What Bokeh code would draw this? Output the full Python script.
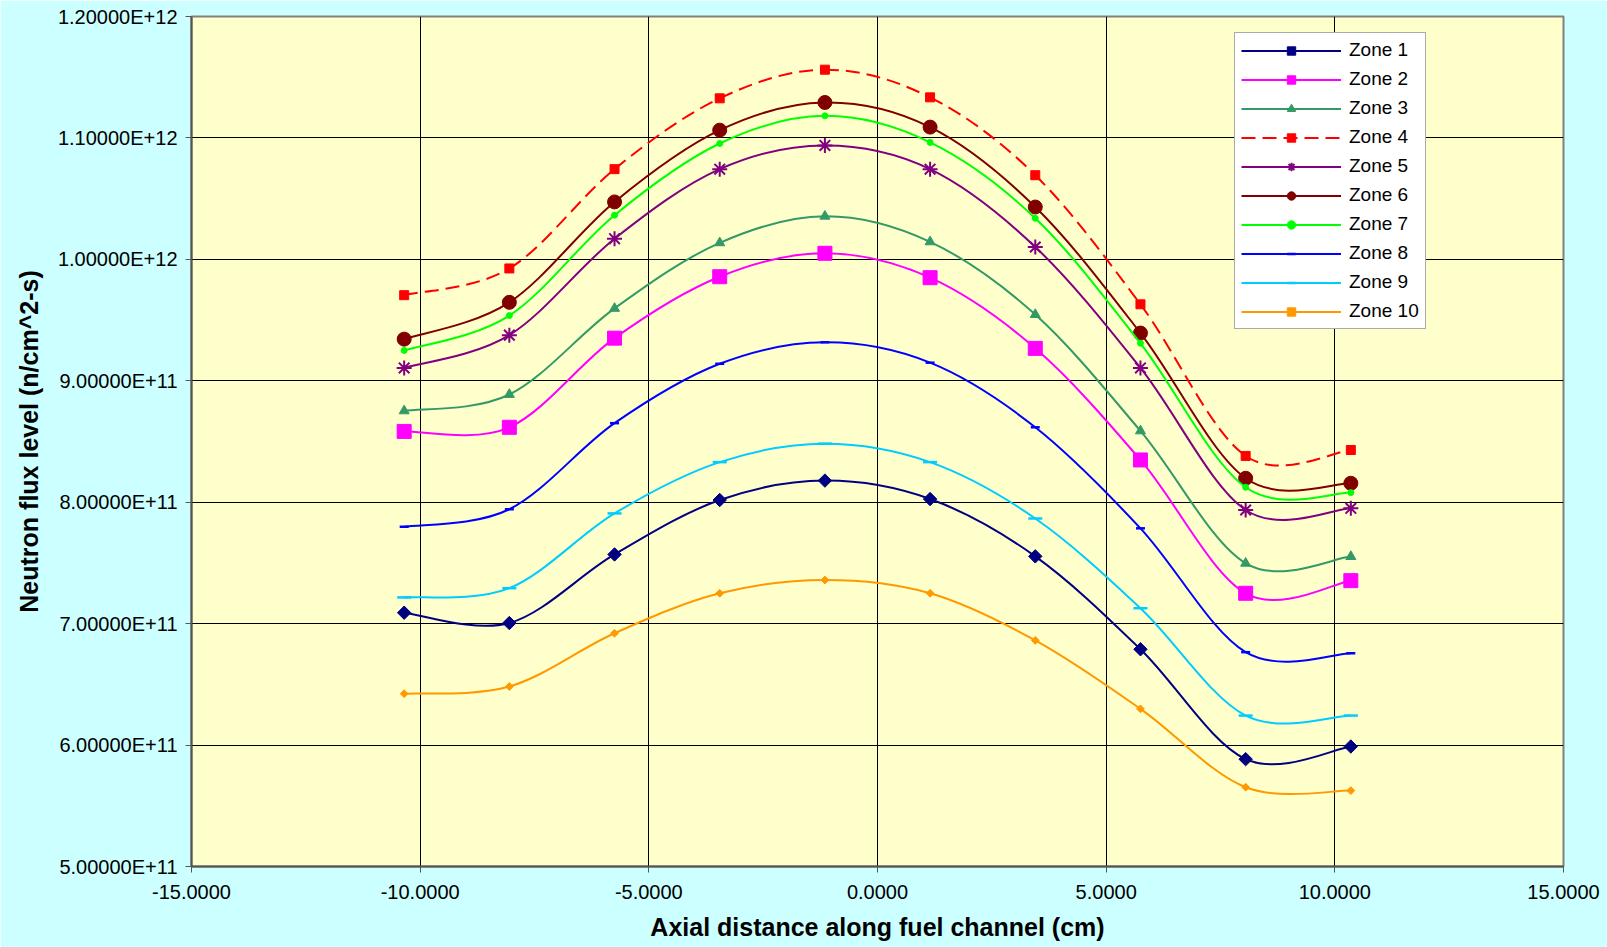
import numpy as np
from bokeh.plotting import figure
from bokeh.models import (Range1d, FixedTicker, CustomJSTickFormatter, PrintfTickFormatter,
                          Legend, LegendItem, ColumnDataSource)
from bokeh.embed import file_html
from bokeh.resources import INLINE

# ---------------- data ----------------
positions = [-10.35, -8.05, -5.75, -3.45, -1.15, 1.15, 3.45, 5.75, 8.05, 10.35]
zone_labels = ["Zone 1", "Zone 2", "Zone 3", "Zone 4", "Zone 5",
               "Zone 6", "Zone 7", "Zone 8", "Zone 9", "Zone 10"]
zone1 = [7.09e11, 7.005e11, 7.57e11, 8.018e11, 8.178e11, 8.026e11, 7.554e11, 6.789e11, 5.884e11, 5.988e11]
zone2 = [8.583e11, 8.617e11, 9.351e11, 9.857e11, 1.005e12, 9.849e11, 9.267e11, 8.348e11, 7.25e11, 7.354e11]
zone3 = [8.752e11, 8.887e11, 9.596e11, 1.0136e12, 1.0355e12, 1.0144e12, 9.545e11, 8.587e11, 7.497e11, 7.552e11]
zone4 = [9.705e11, 9.925e11, 1.0743e12, 1.1326e12, 1.1562e12, 1.1334e12, 1.0693e12, 9.63e11, 8.381e11, 8.43e11]
zone5 = [9.106e11, 9.376e11, 1.017e12, 1.0743e12, 1.0938e12, 1.0743e12, 1.0102e12, 9.106e11, 7.936e11, 7.95e11]
zone6 = [9.343e11, 9.646e11, 1.0473e12, 1.1064e12, 1.1292e12, 1.1089e12, 1.0431e12, 9.393e11, 8.197e11, 8.156e11]
zone7 = [9.25e11, 9.537e11, 1.0364e12, 1.0954e12, 1.1182e12, 1.0963e12, 1.0338e12, 9.309e11, 8.123e11, 8.079e11]
zone8 = [7.798e11, 7.942e11, 8.651e11, 9.14e11, 9.317e11, 9.149e11, 8.617e11, 7.785e11, 6.765e11, 6.756e11]
zone9 = [7.216e11, 7.292e11, 7.908e11, 8.33e11, 8.482e11, 8.33e11, 7.866e11, 7.127e11, 6.243e11, 6.243e11]
zone10 = [6.423e11, 6.482e11, 6.921e11, 7.25e11, 7.359e11, 7.25e11, 6.862e11, 6.298e11, 5.653e11, 5.625e11]
x_ticks = [-15, -10, -5, 0, 5, 10, 15]
y_ticks = [5e11, 6e11, 7e11, 8e11, 9e11, 1.0e12, 1.1e12, 1.2e12]

series = [zone1, zone2, zone3, zone4, zone5, zone6, zone7, zone8, zone9, zone10]

# styles
styles = [
    dict(color="#000080", marker="square", size=9.5, angle=0.7854, dash="solid"),
    dict(color="#FF00FF", marker="square", size=14, angle=0.0, dash="solid"),
    dict(color="#339966", marker="triangle", size=10, angle=0.0, dash="solid"),
    dict(color="#FF0000", marker="square", size=9, angle=0.0, dash="14 7"),
    dict(color="#800080", marker="asterisk", size=15, angle=0.0, dash="solid"),
    dict(color="#800000", marker="circle", size=14, angle=0.0, dash="solid"),
    dict(color="#00FF00", marker="circle", size=6, angle=0.0, dash="solid"),
    dict(color="#0000FF", marker="dash", size=9, angle=0.0, dash="solid"),
    dict(color="#00CCFF", marker="dash", size=14, angle=0.0, dash="solid"),
    dict(color="#FF9900", marker="square", size=5.5, angle=0.7854, dash="solid"),
]

p = figure(width=1607, height=947, output_backend="svg", toolbar_location=None,
           x_range=Range1d(-15, 15), y_range=Range1d(5e11, 1.2e12),
           min_border_left=191, min_border_right=44, min_border_top=16, min_border_bottom=81)

p.background_fill_color = "#FFFFCC"
p.border_fill_color = "#CCFFFF"
p.outline_line_color = "#808080"
p.outline_line_width = 2

p.xaxis.ticker = FixedTicker(ticks=x_ticks)
p.yaxis.ticker = FixedTicker(ticks=y_ticks)
p.xaxis.formatter = PrintfTickFormatter(format="%.4f")
p.yaxis.formatter = CustomJSTickFormatter(code="return tick.toExponential(5).toUpperCase();")

for ax in (p.xaxis, p.yaxis):
    ax.major_label_text_font = "Liberation Sans"
    ax.major_label_text_font_size = "20px"
    ax.major_label_text_color = "black"
    ax.axis_label_text_font = "Liberation Sans"
    ax.axis_label_text_font_size = "25px"
    ax.axis_label_text_font_style = "bold"
    ax.axis_label_text_color = "black"
    ax.axis_line_color = "#555555"
    ax.axis_line_width = 2
    ax.major_tick_line_color = "#555555"
    ax.major_tick_line_width = 1
    ax.major_tick_out = 6
    ax.major_tick_in = 0
    ax.minor_tick_line_color = None

p.xaxis.axis_label = "Axial distance along fuel channel (cm)"
p.yaxis.axis_label = "Neutron flux level (n/cm^2-s)"
p.xaxis.major_label_standoff = 12
p.yaxis.major_label_standoff = 8
p.xaxis.axis_label_standoff = 11
p.yaxis.axis_label_standoff = 12

p.xgrid.ticker = FixedTicker(ticks=x_ticks)
p.ygrid.ticker = FixedTicker(ticks=y_ticks)
for g in (p.xgrid, p.ygrid):
    g.grid_line_color = "black"
    g.grid_line_width = 1

# smooth curves (Excel-like smoothing drawn as cubic Bezier segments)
xs = np.array(positions, dtype=float)
items = []
for name, ys_list, st in zip(zone_labels, series, styles):
    ys = np.array(ys_list, dtype=float)
    n = len(xs)
    xp = np.concatenate([[xs[0]], xs, [xs[-1]]])
    yp = np.concatenate([[ys[0]], ys, [ys[-1]]])
    i = np.arange(n - 1)
    cx0 = xs[i] + (xp[i + 2] - xp[i]) / 6.0
    cy0 = ys[i] + (yp[i + 2] - yp[i]) / 6.0
    cx1 = xs[i + 1] - (xp[i + 3] - xp[i + 1]) / 6.0
    cy1 = ys[i + 1] - (yp[i + 3] - yp[i + 1]) / 6.0
    bsrc = ColumnDataSource(dict(x0=xs[:-1], y0=ys[:-1], x1=xs[1:], y1=ys[1:],
                                 cx0=cx0, cy0=cy0, cx1=cx1, cy1=cy1))
    bez = p.bezier(x0="x0", y0="y0", x1="x1", y1="y1", cx0="cx0", cy0="cy0",
                   cx1="cx1", cy1="cy1", source=bsrc, line_color=st["color"],
                   line_width=2, line_dash=st["dash"])
    msrc = ColumnDataSource(dict(x=xs, y=ys))
    if st["marker"] in ("asterisk", "dash"):
        sc = p.scatter("x", "y", source=msrc, marker=st["marker"], size=st["size"],
                       line_color=st["color"], line_width=2.5 if st["marker"] == "dash" else 2)
    else:
        sc = p.scatter("x", "y", source=msrc, marker=st["marker"], size=st["size"],
                       angle=st["angle"], fill_color=st["color"], line_color=st["color"],
                       line_width=1)
    items.append(LegendItem(label=name, renderers=[bez, sc]))

legend = Legend(items=items, location=(1043, 537))
legend.background_fill_color = "white"
legend.background_fill_alpha = 1.0
legend.border_line_color = "#555555"
legend.border_line_width = 1.5
legend.label_text_font = "Liberation Sans"
legend.label_text_font_size = "19px"
legend.label_text_color = "black"
legend.glyph_width = 100
legend.glyph_height = 21
legend.label_height = 21
legend.spacing = 7
legend.padding = 6
legend.margin = 0
legend.label_standoff = 8
p.add_layout(legend, "center")

open("out.html", "w").write(file_html(p, INLINE))
